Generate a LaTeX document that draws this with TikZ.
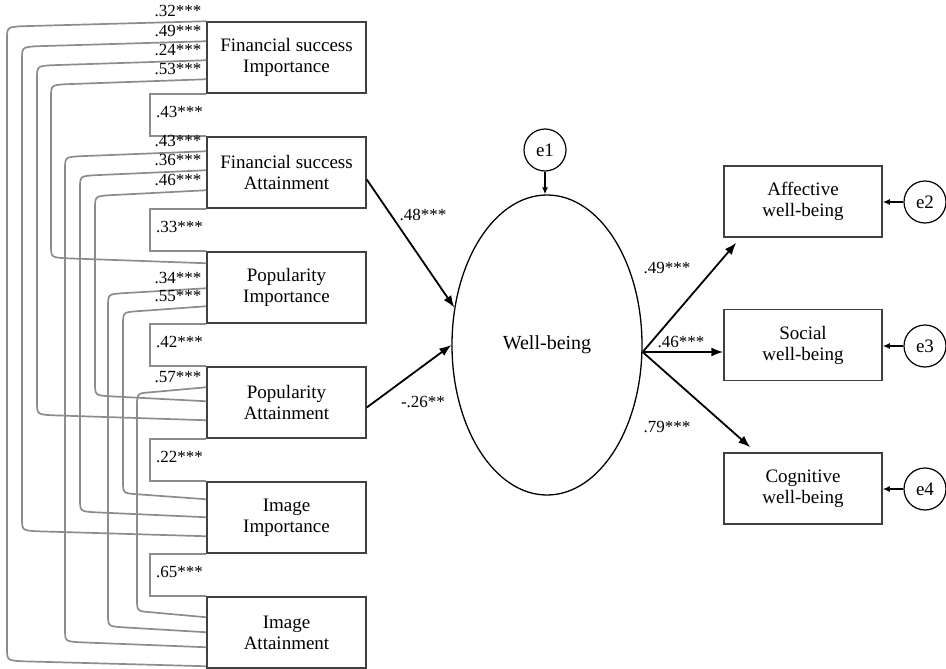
\documentclass[tikz,border=0pt]{standalone}
\usepackage{fontspec}
\setmainfont{Liberation Serif}
\usetikzlibrary{calc,arrows.meta,shapes.geometric}

\tikzset{
	varbox/.style={draw=black!75, line width=1.5pt, minimum width=159pt, minimum height=71pt, align=center, inner sep=2pt, font=\fontsize{19}{21}\selectfont},
	errc/.style={draw, circle, line width=1.2pt, minimum size=42pt, inner sep=0pt, font=\fontsize{19}{21}\selectfont},
	cov/.style={draw=black!45, line width=1.7pt},
	coef/.style={font=\fontsize{17}{19}\selectfont, inner sep=1pt},
	reg/.style={-{Latex[length=12pt,width=9pt]}, line width=1.8pt},
	erra/.style={-{Latex[length=7pt,width=6pt]}, line width=1.4pt}
}

% long covariance arc: from node, offset from its top, column x, to node, offset, label
\newcommand{\covarc}[6]{\draw[cov] let \p1=($(#1.north west)+(0,#2)$), \p2=($(#4.north west)+(0,#5)$) in
	(\p1) node[coef, anchor=south east, xshift=-3pt, yshift=3pt] (c#1#4) {#6}
	-- (#3pt+14pt,\y1-5pt) .. controls (#3pt,\y1-6pt) .. (#3pt,\y1-19pt)
	-- (#3pt,\y2+19pt) .. controls (#3pt,\y2+6pt) .. (#3pt+14pt,\y2+5pt) -- (\p2);}
% covariance of two neighbouring boxes
\newcommand{\adjcov}[3]{\draw[cov] (#1.south west) -- ++(-56pt,0) |- (#2.north west)
	node[coef, pos=0.25, anchor=west, xshift=4pt, yshift=3pt] (c#1#2) {#3};}

\begin{document}
\begin{tikzpicture}[x=1pt, y=-1pt]
	\useasboundingbox (0,0) rectangle (946,669);
	
	%%%%% predictors %%%%%
	\node[varbox] (fi) at (286.5, 57.5) {Financial success\\Importance};
	\node[varbox] (fa) at (286.5, 172.5) {Financial success\\Attainment};
	\node[varbox] (pi) at (286.5, 287.5) {Popularity\\Importance};
	\node[varbox] (pa) at (286.5, 402.5) {Popularity\\Attainment};
	\node[varbox] (ii) at (286.5, 517.5) {Image\\Importance};
	\node[varbox] (ia) at (286.5, 632.5) {Image\\Attainment};
	
	%%%%% covariances %%%%%
	\adjcov{fi}{fa}{.43***}
	\adjcov{fa}{pi}{.33***}
	\adjcov{pi}{pa}{.42***}
	\adjcov{pa}{ii}{.22***}
	\adjcov{ii}{ia}{.65***}
	
	\covarc{fi}{0}{7}{ia}{70}{.32***}
	\covarc{fi}{20}{22}{ii}{55}{.49***}
	\covarc{fi}{39}{37}{pa}{54}{.24***}
	\covarc{fi}{58}{51}{pi}{12}{.53***}
	\covarc{fa}{15}{65}{ia}{51}{.43***}
	\covarc{fa}{34}{80}{ii}{36}{.36***}
	\covarc{fa}{54}{95}{pa}{35}{.46***}
	\covarc{pi}{37}{108}{ia}{36}{.34***}
	\covarc{pi}{55}{123}{ii}{18}{.55***}
	\covarc{pa}{21}{137}{ia}{21}{.57***}
	
	%%%%% latent %%%%%
	\node[draw, ellipse, line width=1.3pt, minimum width=190pt, minimum height=300pt, font=\fontsize{20}{22}\selectfont] (wb) at (547, 345) {Well-being};
	\node[errc] (e1) at (545, 150) {e1};
	\draw[erra] (e1.south) -- (e1.south |- wb.north);
	
	\draw[reg] ([yshift=-7pt]fa.east) -- (wb.158);
	\draw[reg] ([yshift=-5pt]pa.east) -- (wb.west);
	\node[coef] (l48) at (423, 215) {.48***};
	\node[coef] (l26) at (423, 402) {-.26**};
	
	%%%%% outcomes %%%%%
	\node[varbox, minimum width=158pt] (aw) at (803, 201.5) {Affective\\well-being};
	\node[varbox, minimum width=158pt] (sw) at (803, 345) {Social\\well-being};
	\node[varbox, minimum width=158pt] (cw) at (803, 488.5) {Cognitive\\well-being};
	\node[errc] (e2) at (925, 202) {e2};
	\node[errc] (e3) at (925, 346) {e3};
	\node[errc] (e4) at (925, 489) {e4};
	\draw[erra] (e2.west) -- (aw.east |- e2.west);
	\draw[erra] (e3.west) -- (sw.east |- e3.west);
	\draw[erra] (e4.west) -- (cw.east |- e4.west);
	
	\coordinate (wbr) at ([yshift=-7pt]wb.east);
	\draw[reg] (wbr) -- ([xshift=13pt, yshift=-5pt]aw.south west);
	\draw[reg] (wbr) -- (sw.west |- wbr);
	\draw[reg] (wbr) -- ([xshift=27pt, yshift=5pt]cw.north west);
	\node[coef] (l49) at (667, 268) {.49***};
	\node[coef] (l46) at (681, 342) {.46***};
	\node[coef] (l79) at (667, 427) {.79***};
\end{tikzpicture}
\end{document}
